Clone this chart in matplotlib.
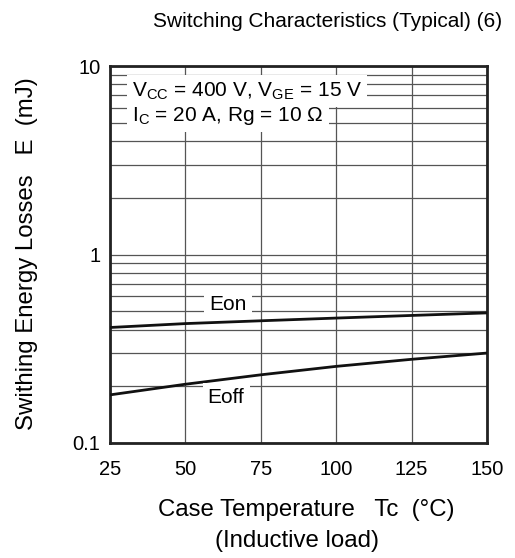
import numpy as np
import matplotlib
matplotlib.use("Agg")
import matplotlib.pyplot as plt
from matplotlib.ticker import FixedLocator, NullFormatter

plt.rcParams["font.family"] = ["Liberation Sans", "DejaVu Sans"]
plt.rcParams["mathtext.fontset"] = "custom"
plt.rcParams["mathtext.rm"] = "Liberation Sans"

# data
tc = [25, 50, 75, 100, 125, 150]
e_on = [0.41, 0.43, 0.445, 0.46, 0.475, 0.49]
e_off = [0.18, 0.205, 0.23, 0.255, 0.278, 0.30]
x_ticks = [25, 50, 75, 100, 125, 150]
y_ticks = [0.1, 1, 10]
y_ticklabels = ["0.1", "1", "10"]

fs = 15
fs_lab = 17.3

fig = plt.figure(figsize=(5.15, 5.58), dpi=100)
ax = fig.add_axes([0.2136, 0.2061, 0.732, 0.6756])

ax.set_yscale("log")
ax.set_xlim(25, 150)
ax.set_ylim(0.1, 10)

minor = [m * d for d in (0.1, 1) for m in range(2, 10)]
ax.yaxis.set_major_locator(FixedLocator(y_ticks))
ax.yaxis.set_minor_locator(FixedLocator(minor))
ax.yaxis.set_minor_formatter(NullFormatter())
ax.set_yticklabels(y_ticklabels)
ax.set_xticks(x_ticks)

ax.grid(True, which="both", color="#555555", linewidth=0.9)
ax.set_axisbelow(True)
ax.tick_params(which="both", length=0, labelsize=14.5)
ax.tick_params(axis="x", pad=12)
ax.tick_params(axis="y", pad=7)
for s in ax.spines.values():
    s.set_linewidth(2.0)
    s.set_color("#222222")

ax.plot(tc, e_on, color="#111111", linewidth=2.0, zorder=3)
ax.plot(tc, e_off, color="#111111", linewidth=2.0, zorder=3)

box = dict(boxstyle="square,pad=0.25", facecolor="white", edgecolor="none")
ax.text(64, 0.545, "Eon", fontsize=fs, ha="center", va="center", bbox=box, zorder=4)
ax.text(63.5, 0.174, "Eoff", fontsize=fs, ha="center", va="center", bbox=box, zorder=4)
ax.text(32.3, 6.89, r"V$_{\rm CC}$ = 400 V, V$_{\rm GE}$ = 15 V",
        fontsize=fs, ha="left", va="baseline", bbox=box, zorder=4)
ax.text(32.3, 5.1, r"I$_{\rm C}$ = 20 A, Rg = 10 $\Omega$",
        fontsize=fs, ha="left", va="baseline", bbox=box, zorder=4)

fig.text(0.636, 0.962, "Switching Characteristics (Typical) (6)", fontsize=fs,
         ha="center", va="center")
fig.text(0.052, 0.5457, "Swithing Energy Losses   E  (mJ)", fontsize=fs_lab,
         rotation=90, ha="center", va="center")
fig.text(0.595, 0.086, "Case Temperature   Tc  (°C)", fontsize=fs_lab,
         ha="center", va="center")
fig.text(0.576, 0.03, "(Inductive load)", fontsize=fs_lab, ha="center", va="center")

fig.savefig("out.png", dpi=100)
